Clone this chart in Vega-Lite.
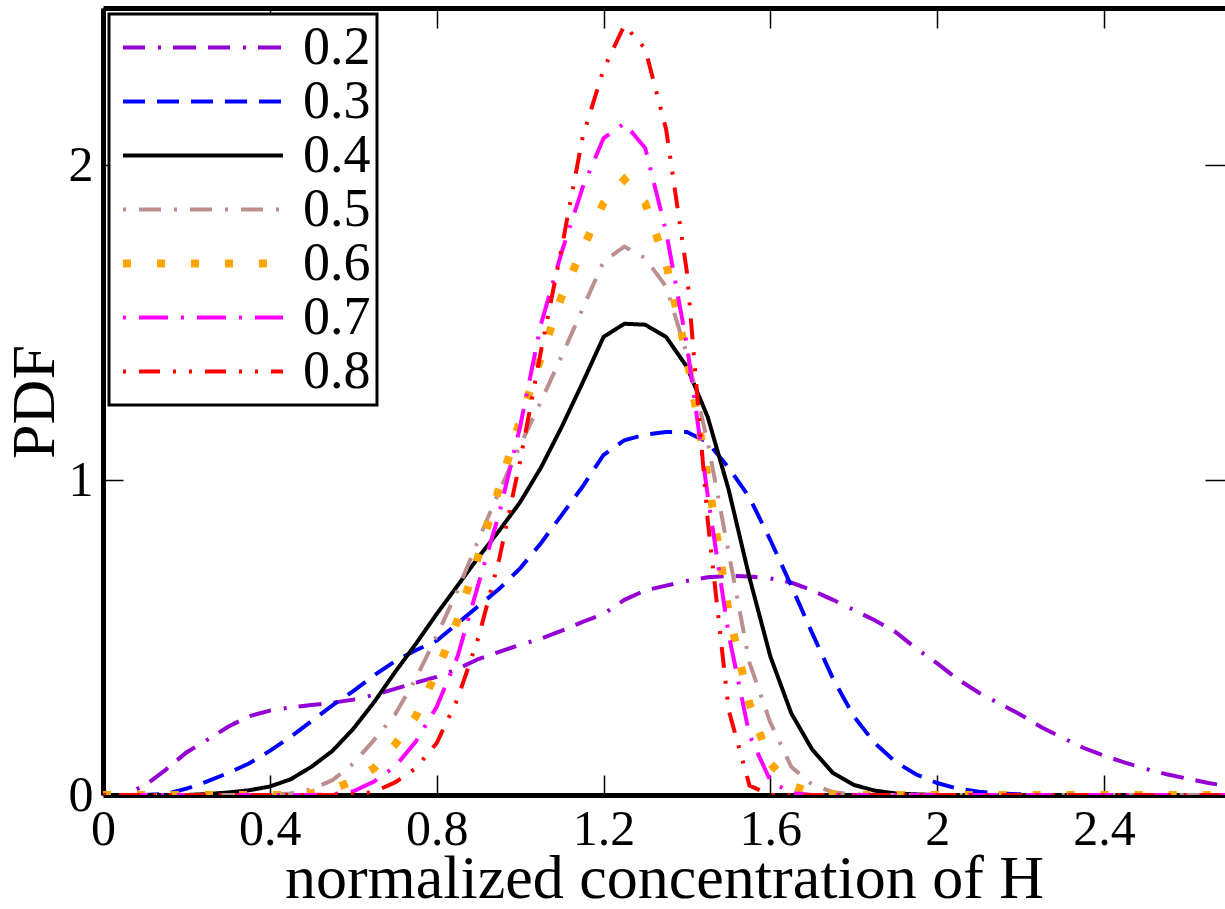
{
  "$schema": "https://vega.github.io/schema/vega-lite/v6.json",
  "width": 1122,
  "height": 787,
  "autosize": {"type": "none"},
  "padding": {"left": 103, "top": 8, "right": 0, "bottom": 114},
  "background": "white",
  "config": {"view": {"stroke": null}, "font": "Liberation Serif"},
  "datasets": {
    "pdf": [
      {"s":"0.2","x":0,"y":0},{"s":"0.2","x":0.05,"y":0},{"s":"0.2","x":0.1,"y":0.03},{"s":"0.2","x":0.15,"y":0.08},{"s":"0.2","x":0.2,"y":0.135},{"s":"0.2","x":0.25,"y":0.175},{"s":"0.2","x":0.3,"y":0.217},{"s":"0.2","x":0.35,"y":0.25},{"s":"0.2","x":0.4,"y":0.268},{"s":"0.2","x":0.45,"y":0.278},{"s":"0.2","x":0.5,"y":0.286},{"s":"0.2","x":0.55,"y":0.293},{"s":"0.2","x":0.6,"y":0.303},{"s":"0.2","x":0.65,"y":0.318},{"s":"0.2","x":0.7,"y":0.337},{"s":"0.2","x":0.75,"y":0.357},{"s":"0.2","x":0.8,"y":0.375},{"s":"0.2","x":0.85,"y":0.4},{"s":"0.2","x":0.9,"y":0.432},{"s":"0.2","x":0.95,"y":0.455},{"s":"0.2","x":1.0,"y":0.477},{"s":"0.2","x":1.05,"y":0.497},{"s":"0.2","x":1.1,"y":0.522},{"s":"0.2","x":1.15,"y":0.55},{"s":"0.2","x":1.2,"y":0.575},{"s":"0.2","x":1.25,"y":0.62},{"s":"0.2","x":1.3,"y":0.65},{"s":"0.2","x":1.35,"y":0.665},{"s":"0.2","x":1.4,"y":0.68},{"s":"0.2","x":1.45,"y":0.692},{"s":"0.2","x":1.5,"y":0.696},{"s":"0.2","x":1.55,"y":0.694},{"s":"0.2","x":1.6,"y":0.688},{"s":"0.2","x":1.65,"y":0.675},{"s":"0.2","x":1.7,"y":0.65},{"s":"0.2","x":1.75,"y":0.62},{"s":"0.2","x":1.8,"y":0.588},{"s":"0.2","x":1.85,"y":0.555},{"s":"0.2","x":1.9,"y":0.518},{"s":"0.2","x":1.95,"y":0.465},{"s":"0.2","x":2.0,"y":0.418},{"s":"0.2","x":2.05,"y":0.367},{"s":"0.2","x":2.1,"y":0.325},{"s":"0.2","x":2.15,"y":0.29},{"s":"0.2","x":2.2,"y":0.255},{"s":"0.2","x":2.25,"y":0.215},{"s":"0.2","x":2.3,"y":0.182},{"s":"0.2","x":2.35,"y":0.15},{"s":"0.2","x":2.4,"y":0.125},{"s":"0.2","x":2.45,"y":0.103},{"s":"0.2","x":2.5,"y":0.083},{"s":"0.2","x":2.55,"y":0.066},{"s":"0.2","x":2.6,"y":0.052},{"s":"0.2","x":2.65,"y":0.038},{"s":"0.2","x":2.7,"y":0.028},{"s":"0.2","x":2.75,"y":0.02},
      {"s":"0.3","x":0,"y":0},{"s":"0.3","x":0.1,"y":0},{"s":"0.3","x":0.15,"y":0.003},{"s":"0.3","x":0.2,"y":0.02},{"s":"0.3","x":0.25,"y":0.043},{"s":"0.3","x":0.3,"y":0.07},{"s":"0.3","x":0.35,"y":0.1},{"s":"0.3","x":0.4,"y":0.14},{"s":"0.3","x":0.45,"y":0.185},{"s":"0.3","x":0.5,"y":0.235},{"s":"0.3","x":0.55,"y":0.285},{"s":"0.3","x":0.6,"y":0.33},{"s":"0.3","x":0.65,"y":0.38},{"s":"0.3","x":0.7,"y":0.425},{"s":"0.3","x":0.75,"y":0.46},{"s":"0.3","x":0.8,"y":0.49},{"s":"0.3","x":0.85,"y":0.545},{"s":"0.3","x":0.9,"y":0.6},{"s":"0.3","x":0.95,"y":0.655},{"s":"0.3","x":1.0,"y":0.72},{"s":"0.3","x":1.05,"y":0.8},{"s":"0.3","x":1.1,"y":0.89},{"s":"0.3","x":1.15,"y":0.98},{"s":"0.3","x":1.2,"y":1.08},{"s":"0.3","x":1.25,"y":1.127},{"s":"0.3","x":1.3,"y":1.145},{"s":"0.3","x":1.35,"y":1.153},{"s":"0.3","x":1.4,"y":1.153},{"s":"0.3","x":1.45,"y":1.12},{"s":"0.3","x":1.5,"y":1.04},{"s":"0.3","x":1.55,"y":0.945},{"s":"0.3","x":1.6,"y":0.81},{"s":"0.3","x":1.65,"y":0.665},{"s":"0.3","x":1.7,"y":0.515},{"s":"0.3","x":1.75,"y":0.37},{"s":"0.3","x":1.8,"y":0.25},{"s":"0.3","x":1.85,"y":0.165},{"s":"0.3","x":1.9,"y":0.105},{"s":"0.3","x":1.95,"y":0.065},{"s":"0.3","x":2.0,"y":0.038},{"s":"0.3","x":2.05,"y":0.02},{"s":"0.3","x":2.1,"y":0.01},{"s":"0.3","x":2.15,"y":0.005},{"s":"0.3","x":2.2,"y":0.002},{"s":"0.3","x":2.25,"y":0},{"s":"0.3","x":2.75,"y":0},
      {"s":"0.4","x":0,"y":0},{"s":"0.4","x":0.2,"y":0},{"s":"0.4","x":0.25,"y":0.003},{"s":"0.4","x":0.3,"y":0.008},{"s":"0.4","x":0.35,"y":0.015},{"s":"0.4","x":0.4,"y":0.027},{"s":"0.4","x":0.45,"y":0.05},{"s":"0.4","x":0.5,"y":0.09},{"s":"0.4","x":0.55,"y":0.14},{"s":"0.4","x":0.6,"y":0.21},{"s":"0.4","x":0.65,"y":0.295},{"s":"0.4","x":0.7,"y":0.39},{"s":"0.4","x":0.75,"y":0.48},{"s":"0.4","x":0.8,"y":0.575},{"s":"0.4","x":0.85,"y":0.665},{"s":"0.4","x":0.9,"y":0.755},{"s":"0.4","x":0.95,"y":0.84},{"s":"0.4","x":1.0,"y":0.93},{"s":"0.4","x":1.05,"y":1.04},{"s":"0.4","x":1.1,"y":1.17},{"s":"0.4","x":1.15,"y":1.31},{"s":"0.4","x":1.2,"y":1.455},{"s":"0.4","x":1.25,"y":1.497},{"s":"0.4","x":1.3,"y":1.494},{"s":"0.4","x":1.35,"y":1.455},{"s":"0.4","x":1.4,"y":1.36},{"s":"0.4","x":1.45,"y":1.2},{"s":"0.4","x":1.5,"y":0.97},{"s":"0.4","x":1.55,"y":0.69},{"s":"0.4","x":1.6,"y":0.44},{"s":"0.4","x":1.65,"y":0.26},{"s":"0.4","x":1.7,"y":0.145},{"s":"0.4","x":1.75,"y":0.07},{"s":"0.4","x":1.8,"y":0.032},{"s":"0.4","x":1.85,"y":0.014},{"s":"0.4","x":1.9,"y":0.005},{"s":"0.4","x":1.95,"y":0.002},{"s":"0.4","x":2.0,"y":0},{"s":"0.4","x":2.75,"y":0},
      {"s":"0.5","x":0,"y":0},{"s":"0.5","x":0.4,"y":0},{"s":"0.5","x":0.45,"y":0.005},{"s":"0.5","x":0.5,"y":0.018},{"s":"0.5","x":0.55,"y":0.047},{"s":"0.5","x":0.6,"y":0.1},{"s":"0.5","x":0.65,"y":0.175},{"s":"0.5","x":0.7,"y":0.255},{"s":"0.5","x":0.75,"y":0.37},{"s":"0.5","x":0.8,"y":0.505},{"s":"0.5","x":0.85,"y":0.65},{"s":"0.5","x":0.9,"y":0.81},{"s":"0.5","x":0.95,"y":0.965},{"s":"0.5","x":1.0,"y":1.11},{"s":"0.5","x":1.05,"y":1.25},{"s":"0.5","x":1.1,"y":1.395},{"s":"0.5","x":1.15,"y":1.545},{"s":"0.5","x":1.2,"y":1.695},{"s":"0.5","x":1.25,"y":1.742},{"s":"0.5","x":1.3,"y":1.705},{"s":"0.5","x":1.35,"y":1.615},{"s":"0.5","x":1.4,"y":1.4},{"s":"0.5","x":1.45,"y":1.12},{"s":"0.5","x":1.5,"y":0.77},{"s":"0.5","x":1.55,"y":0.42},{"s":"0.5","x":1.6,"y":0.23},{"s":"0.5","x":1.65,"y":0.09},{"s":"0.5","x":1.7,"y":0.033},{"s":"0.5","x":1.75,"y":0.009},{"s":"0.5","x":1.8,"y":0.002},{"s":"0.5","x":1.85,"y":0},{"s":"0.5","x":2.75,"y":0},
      {"s":"0.6","x":0,"y":0},{"s":"0.6","x":0.45,"y":0},{"s":"0.6","x":0.5,"y":0.006},{"s":"0.6","x":0.55,"y":0.018},{"s":"0.6","x":0.6,"y":0.045},{"s":"0.6","x":0.65,"y":0.085},{"s":"0.6","x":0.7,"y":0.16},{"s":"0.6","x":0.75,"y":0.25},{"s":"0.6","x":0.8,"y":0.39},{"s":"0.6","x":0.85,"y":0.555},{"s":"0.6","x":0.9,"y":0.76},{"s":"0.6","x":0.95,"y":0.975},{"s":"0.6","x":1.0,"y":1.19},{"s":"0.6","x":1.05,"y":1.39},{"s":"0.6","x":1.1,"y":1.585},{"s":"0.6","x":1.15,"y":1.735},{"s":"0.6","x":1.2,"y":1.88},{"s":"0.6","x":1.25,"y":1.955},{"s":"0.6","x":1.3,"y":1.88},{"s":"0.6","x":1.35,"y":1.69},{"s":"0.6","x":1.4,"y":1.39},{"s":"0.6","x":1.45,"y":1.01},{"s":"0.6","x":1.5,"y":0.58},{"s":"0.6","x":1.55,"y":0.29},{"s":"0.6","x":1.6,"y":0.1},{"s":"0.6","x":1.65,"y":0.03},{"s":"0.6","x":1.7,"y":0.008},{"s":"0.6","x":1.75,"y":0.002},{"s":"0.6","x":1.8,"y":0},{"s":"0.6","x":2.75,"y":0},
      {"s":"0.7","x":0,"y":0},{"s":"0.7","x":0.5,"y":0},{"s":"0.7","x":0.55,"y":0.002},{"s":"0.7","x":0.6,"y":0.012},{"s":"0.7","x":0.65,"y":0.043},{"s":"0.7","x":0.7,"y":0.09},{"s":"0.7","x":0.75,"y":0.17},{"s":"0.7","x":0.8,"y":0.28},{"s":"0.7","x":0.85,"y":0.44},{"s":"0.7","x":0.9,"y":0.67},{"s":"0.7","x":0.95,"y":0.895},{"s":"0.7","x":1.0,"y":1.17},{"s":"0.7","x":1.05,"y":1.495},{"s":"0.7","x":1.1,"y":1.726},{"s":"0.7","x":1.15,"y":1.93},{"s":"0.7","x":1.2,"y":2.086},{"s":"0.7","x":1.25,"y":2.134},{"s":"0.7","x":1.3,"y":2.055},{"s":"0.7","x":1.35,"y":1.79},{"s":"0.7","x":1.4,"y":1.43},{"s":"0.7","x":1.45,"y":0.95},{"s":"0.7","x":1.5,"y":0.51},{"s":"0.7","x":1.55,"y":0.19},{"s":"0.7","x":1.6,"y":0.045},{"s":"0.7","x":1.65,"y":0.006},{"s":"0.7","x":1.7,"y":0},{"s":"0.7","x":2.75,"y":0},
      {"s":"0.8","x":0,"y":0},{"s":"0.8","x":0.55,"y":0},{"s":"0.8","x":0.6,"y":0.002},{"s":"0.8","x":0.65,"y":0.01},{"s":"0.8","x":0.7,"y":0.04},{"s":"0.8","x":0.75,"y":0.085},{"s":"0.8","x":0.8,"y":0.165},{"s":"0.8","x":0.85,"y":0.305},{"s":"0.8","x":0.9,"y":0.5},{"s":"0.8","x":0.95,"y":0.75},{"s":"0.8","x":1.0,"y":1.06},{"s":"0.8","x":1.05,"y":1.41},{"s":"0.8","x":1.1,"y":1.74},{"s":"0.8","x":1.15,"y":2.09},{"s":"0.8","x":1.2,"y":2.305},{"s":"0.8","x":1.25,"y":2.445},{"s":"0.8","x":1.3,"y":2.37},{"s":"0.8","x":1.35,"y":2.115},{"s":"0.8","x":1.4,"y":1.66},{"s":"0.8","x":1.45,"y":0.87},{"s":"0.8","x":1.5,"y":0.27},{"s":"0.8","x":1.55,"y":0.03},{"s":"0.8","x":1.6,"y":0},{"s":"0.8","x":2.75,"y":0}
    ]
  },
  "data": {"name": "pdf"},
  "layer": [
    {
      "mark": {"type": "line", "clip": true},
      "encoding": {
        "x": {
          "field": "x", "type": "quantitative",
          "scale": {"domain": [0, 2.69], "nice": false, "zero": false},
          "axis": {
            "orient": "bottom", "values": [0, 0.4, 0.8, 1.2, 1.6, 2, 2.4], "format": ".1~f",
            "title": "normalized concentration of H", "grid": false,
            "domain": true, "domainColor": "black", "domainWidth": 5,
            "ticks": true, "tickSize": -20, "tickWidth": 1.5, "tickColor": "black",
            "labelFont": "Liberation Serif", "labelFontSize": 50, "labelColor": "black",
            "labelPadding": 29, "labelFlush": false, "labelOverlap": false,
            "titleFont": "Liberation Serif", "titleFontSize": 62, "titleFontWeight": "normal",
            "titleColor": "black", "titlePadding": -6
          }
        },
        "y": {
          "field": "y", "type": "quantitative",
          "scale": {"domain": [0, 2.5], "nice": false, "zero": false},
          "axis": {
            "orient": "left", "values": [0, 1, 2], "format": "d",
            "title": "PDF", "grid": false,
            "domain": true, "domainColor": "black", "domainWidth": 5,
            "ticks": true, "tickSize": -20, "tickWidth": 1.5, "tickColor": "black",
            "labelFont": "Liberation Serif", "labelFontSize": 50, "labelColor": "black",
            "labelPadding": 30, "labelFlush": false, "labelOverlap": false,
            "titleFont": "Liberation Serif", "titleFontSize": 62, "titleFontWeight": "normal",
            "titleColor": "black", "titlePadding": 2
          }
        },
        "color": {
          "field": "s", "type": "nominal",
          "scale": {"domain": ["0.2","0.3","0.4","0.5","0.6","0.7","0.8"], "range": ["#9400d3","#0000ff","#000000","#bc8f8f","#ffa500","#ff00ff","#ff0000"]},
          "legend": {
            "title": null, "orient": "top-left", "offset": 6, "padding": 6.5,
            "strokeColor": "black", "fillColor": "white", "cornerRadius": 0,
            "symbolType": "stroke", "symbolSize": 25600, "symbolStrokeWidth": 4, "symbolOffset": 60.5,
            "labelOffset": 73, "labelFont": "Liberation Serif", "labelFontSize": 54, "labelColor": "black",
            "labelExpr": "datum.label + '\u00a0'",
            "rowPadding": 0,
            "encode": {
              "legend": {"update": {"strokeWidth": {"value": 3}}},
              "symbols": {"update": {"strokeWidth": {"signal": "datum.value === '0.6' ? 8 : 4"}}}
            }
          }
        },
        "strokeDash": {
          "field": "s", "type": "nominal",
          "scale": {"domain": ["0.2","0.3","0.4","0.5","0.6","0.7","0.8"], "range": [[22,13,3,12,23,12],[22,12],[1,0],[3,13,22,13],[8,26],[3,13,29,13],[3,13,21,13,3,13]]},
          "legend": {
            "title": null, "orient": "top-left", "offset": 6, "padding": 6.5,
            "strokeColor": "black", "fillColor": "white", "cornerRadius": 0,
            "symbolType": "stroke", "symbolSize": 25600, "symbolStrokeWidth": 4, "symbolOffset": 60.5,
            "labelOffset": 73, "labelFont": "Liberation Serif", "labelFontSize": 54, "labelColor": "black",
            "labelExpr": "datum.label + '\u00a0'",
            "rowPadding": 0,
            "encode": {
              "legend": {"update": {"strokeWidth": {"value": 3}}},
              "symbols": {"update": {"strokeWidth": {"signal": "datum.value === '0.6' ? 8 : 4"}}}
            }
          }
        },
        "strokeWidth": {"condition": {"test": "datum.s === '0.6'", "value": 8}, "value": 4}
      }
    },
    {
      "mark": {"type": "line", "strokeOpacity": 0, "clip": true},
      "encoding": {
        "x": {
          "field": "x", "type": "quantitative",
          "axis": {
            "orient": "top", "values": [0, 0.4, 0.8, 1.2, 1.6, 2, 2.4], "labels": false, "title": null, "grid": false,
            "domain": true, "domainColor": "black", "domainWidth": 5,
            "ticks": true, "tickSize": -20, "tickWidth": 1.5, "tickColor": "black"
          }
        },
        "y": {
          "field": "y", "type": "quantitative",
          "axis": {
            "orient": "right", "values": [0, 1, 2], "labels": false, "title": null, "grid": false,
            "domain": false,
            "ticks": true, "tickSize": -20, "tickWidth": 1.5, "tickColor": "black"
          }
        },
        "detail": {"field": "s", "type": "nominal"}
      }
    }
  ],
  "resolve": {"axis": {"x": "independent", "y": "independent"}}
}
